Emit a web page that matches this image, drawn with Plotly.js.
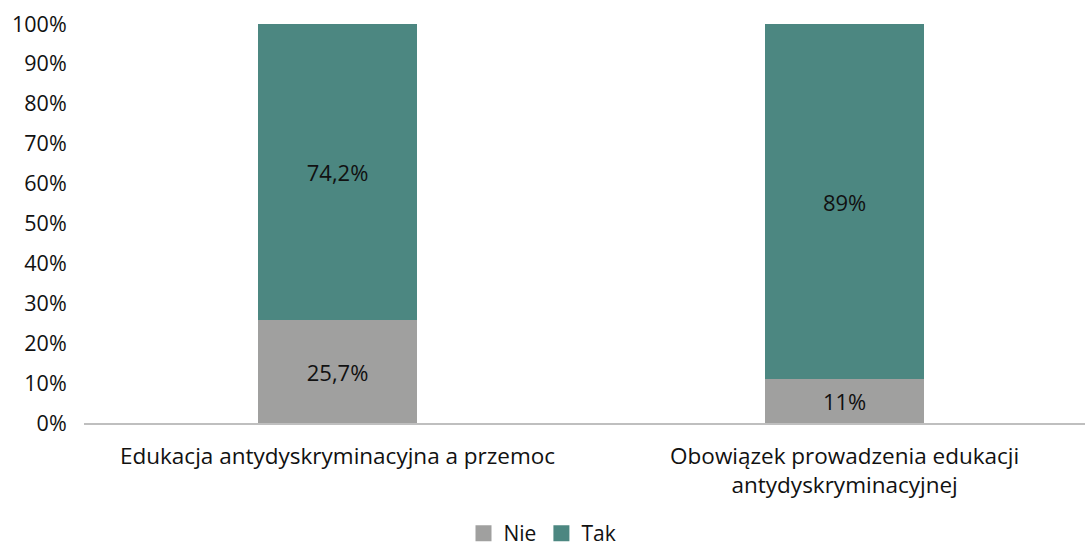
<!DOCTYPE html>
<html>
<head>
<meta charset="utf-8">
<script src="https://cdn.plot.ly/plotly-3.0.1.min.js"></script>
<style>html,body{margin:0;padding:0;background:#fff;}#chart{width:1085px;height:550px;}</style>
</head>
<body>
<div id="chart"></div>
<script>
const categories = ["Edukacja antydyskryminacyjna a przemoc", "Obowiązek prowadzenia edukacji<br>antydyskryminacyjnej"];
const nieValues = [25.7, 11];
const takValues = [74.2, 89];
const nieLabels = ["25,7%", "11%"];
const takLabels = ["74,2%", "89%"];
const yTicks = [0,10,20,30,40,50,60,70,80,90,100];
const seriesNames = ["Nie", "Tak"];
const seriesColors = ["#A0A09F", "#4C8781"];

const font = "Open Sans, Noto Sans, sans-serif";
const txt = '#111111';
const traces = [
  {type:'bar', name:seriesNames[0], x:categories, y:nieValues, text:nieLabels, textposition:'inside', insidetextanchor:'middle',
   textfont:{family:font,size:22,color:txt}, marker:{color:seriesColors[0]}, width:0.314, hoverinfo:'none', showlegend:false},
  {type:'bar', name:seriesNames[1], x:categories, y:takValues, text:takLabels, textposition:'inside', insidetextanchor:'middle',
   textfont:{family:font,size:22,color:txt}, marker:{color:seriesColors[1]}, width:0.314, hoverinfo:'none', showlegend:false},
  {type:'scatter', mode:'markers', name:seriesNames[0], x:[null], y:[null], marker:{symbol:'square', size:16, color:seriesColors[0]}, hoverinfo:'none'},
  {type:'scatter', mode:'markers', name:seriesNames[1], x:[null], y:[null], marker:{symbol:'square', size:16, color:seriesColors[1]}, hoverinfo:'none'}
];
const layout = {
  width:1085, height:550, barmode:'stack',
  margin:{l:84, r:0, t:24, b:127},
  paper_bgcolor:'#fff', plot_bgcolor:'#fff',
  font:{family:font, size:21, color:txt},
  xaxis:{type:'category', range:[-0.5,1.474], showline:true, linecolor:'#bfbfbf', linewidth:2, ticks:'', showgrid:false,
         tickfont:{family:font,size:22.5,color:txt}, zeroline:false, ticklabelstandoff:12},
  yaxis:{range:[0,100], tickvals:yTicks, ticktext:yTicks.map(v=>v+'%'), showgrid:false, zeroline:false, showline:false,
         ticks:'outside', ticklen:12, tickcolor:'rgba(0,0,0,0)', tickfont:{family:font,size:21.5,color:txt}},
  legend:{orientation:'h', xref:'container', yref:'container', x:0.5, xanchor:'center', y:0.03, yanchor:'middle',
          font:{family:font,size:21,color:txt}, traceorder:'normal', tracegroupgap:0},
  showlegend:true
};
Plotly.newPlot('chart', traces, layout, {staticPlot:true, displayModeBar:false});
</script>
</body>
</html>
